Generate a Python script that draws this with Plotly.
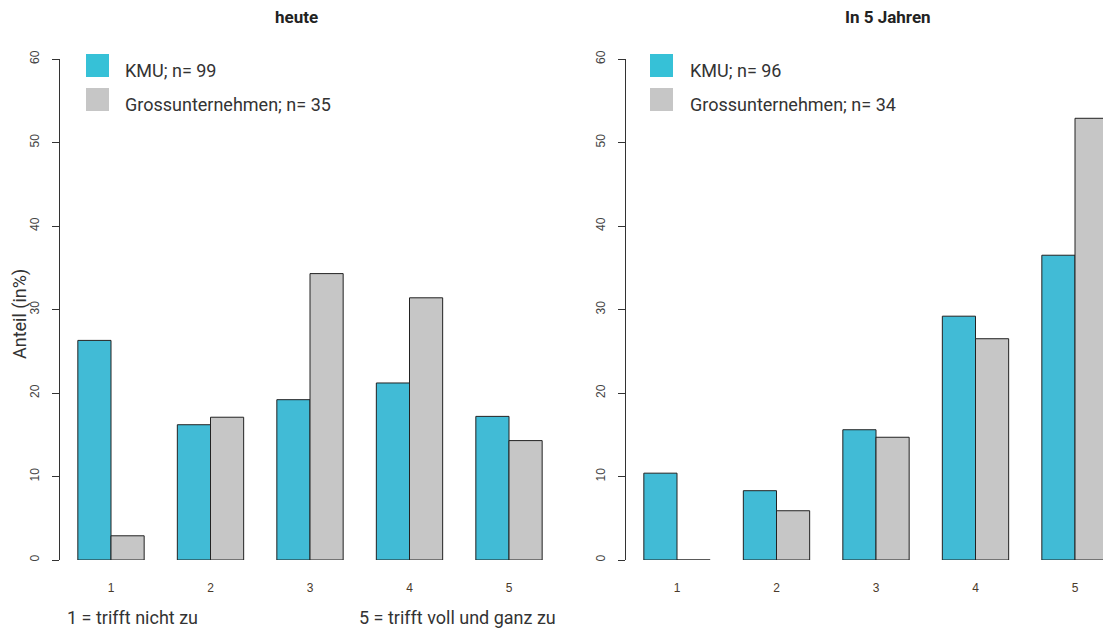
import plotly.graph_objects as go

# ---- data ----
categories = ["1", "2", "3", "4", "5"]
heute_kmu = [26.3, 16.2, 19.2, 21.2, 17.2]
heute_gross = [2.9, 17.1, 34.3, 31.4, 14.3]
jahre5_kmu = [10.4, 8.3, 15.6, 29.2, 36.5]
jahre5_gross = [0.0, 5.9, 14.7, 26.5, 52.9]
n_heute_kmu, n_heute_gross = 99, 35
n_jahre5_kmu, n_jahre5_gross = 96, 34
panel_titles = ["heute", "In 5 Jahren"]
y_ticks = [0, 10, 20, 30, 40, 50, 60]

# page body has an 8px margin
OFF = 8
W, H = 1111 - OFF, 632 - OFF
def fx(px):
    return (px - OFF) / W
def fy(py):
    return 1 - (py - OFF) / H

CYAN = "#41BBD6"
CYAN_LEG = "#36C1D7"
GRAY = "#C6C6C6"
OUT = "#222222"
TXT = "#333333"

fig = go.Figure()
bar_line = dict(color=OUT, width=1)
fig.add_trace(go.Bar(x=categories, y=heute_kmu, marker=dict(color=CYAN, line=bar_line),
                     xaxis="x", yaxis="y", showlegend=False))
fig.add_trace(go.Bar(x=categories, y=heute_gross, marker=dict(color=GRAY, line=bar_line),
                     xaxis="x", yaxis="y", showlegend=False))
fig.add_trace(go.Bar(x=categories, y=jahre5_kmu, marker=dict(color=CYAN, line=bar_line),
                     xaxis="x2", yaxis="y2", showlegend=False))
fig.add_trace(go.Bar(x=categories, y=jahre5_gross, marker=dict(color=GRAY, line=bar_line),
                     xaxis="x2", yaxis="y2", showlegend=False))

unit = 99.5  # px per category
xcommon = dict(type="category", showline=False, ticks="", showgrid=False, zeroline=False,
               automargin=False,
               tickfont=dict(family="Liberation Sans, Arial", size=12, color="#4a3a2a"),
               ticklabelstandoff=19)
ycommon = dict(range=[0, 60], tickvals=y_ticks, showline=True, linecolor=TXT, linewidth=1,
               ticks="outside", ticklen=7, tickcolor=TXT, tickwidth=1, showgrid=False,
               zeroline=False, tickangle=-90, automargin=False,
               tickfont=dict(family="Liberation Sans, Arial", size=12, color="#444444"),
               ticklabelstandoff=8)
ydom = [fy(560), fy(59)]

fig.update_layout(
    template="none",
    width=W, height=H, margin=dict(l=0, r=0, t=0, b=0, pad=0, autoexpand=False),
    paper_bgcolor="white", plot_bgcolor="white",
    barmode="group", bargap=1/3, bargroupgap=0,
    xaxis=dict(domain=[fx(60), fx(560)], range=[-51/unit, 4 + 51/unit], anchor="y", **xcommon),
    yaxis=dict(domain=ydom, anchor="x", **ycommon),
    xaxis2=dict(domain=[fx(626), 1.0], range=[-51/unit, (1111 - 677)/unit], anchor="y2", **xcommon),
    yaxis2=dict(domain=ydom, anchor="x2", **ycommon),
)

ann = []
shapes = []
# titles
for title, cx in zip(panel_titles, [296, 888]):
    ann.append(dict(text="<b>" + title + "</b>", x=fx(cx), y=fy(17), xref="paper", yref="paper",
                    showarrow=False, xanchor="center", yanchor="middle",
                    font=dict(family="Roboto", size=17, color="#222222")))
# legends
legends = [
    (86, 123, "KMU; n= %d" % n_heute_kmu, "Grossunternehmen; n= %d" % n_heute_gross),
    (650, 688, "KMU; n= %d" % n_jahre5_kmu, "Grossunternehmen; n= %d" % n_jahre5_gross),
]
for bx, tx, lab1, lab2 in legends:
    for (y0, y1, col, lab, ty) in [(54, 77, CYAN_LEG, lab1, 71), (88, 111, GRAY, lab2, 104)]:
        shapes.append(dict(type="rect", xref="paper", yref="paper", x0=fx(bx), x1=fx(bx + 23),
                           y0=fy(y1), y1=fy(y0), fillcolor=col, line=dict(width=0)))
        ann.append(dict(text=lab, x=fx(tx), y=fy(ty), xref="paper", yref="paper", showarrow=False,
                        xanchor="left", yanchor="middle",
                        font=dict(family="Roboto", size=18, color=TXT)))
# y title
ann.append(dict(text="Anteil (in%)", x=fx(8), y=fy(314), xref="paper", yref="paper",
                showarrow=False, textangle=-90, xanchor="left", yanchor="middle", borderpad=0,
                font=dict(family="Roboto", size=18, color=TXT)))
# footnotes
ann.append(dict(text="1 = trifft nicht zu", x=fx(65), y=fy(617), xref="paper", yref="paper",
                showarrow=False, xanchor="left", yanchor="middle",
                font=dict(family="Roboto", size=18, color=TXT)))
ann.append(dict(text="5 = trifft voll und ganz zu", x=fx(357), y=fy(617), xref="paper", yref="paper",
                showarrow=False, xanchor="left", yanchor="middle",
                font=dict(family="Roboto", size=18, color=TXT)))

fig.update_layout(annotations=ann, shapes=shapes)
fig.write_html("out.html")
